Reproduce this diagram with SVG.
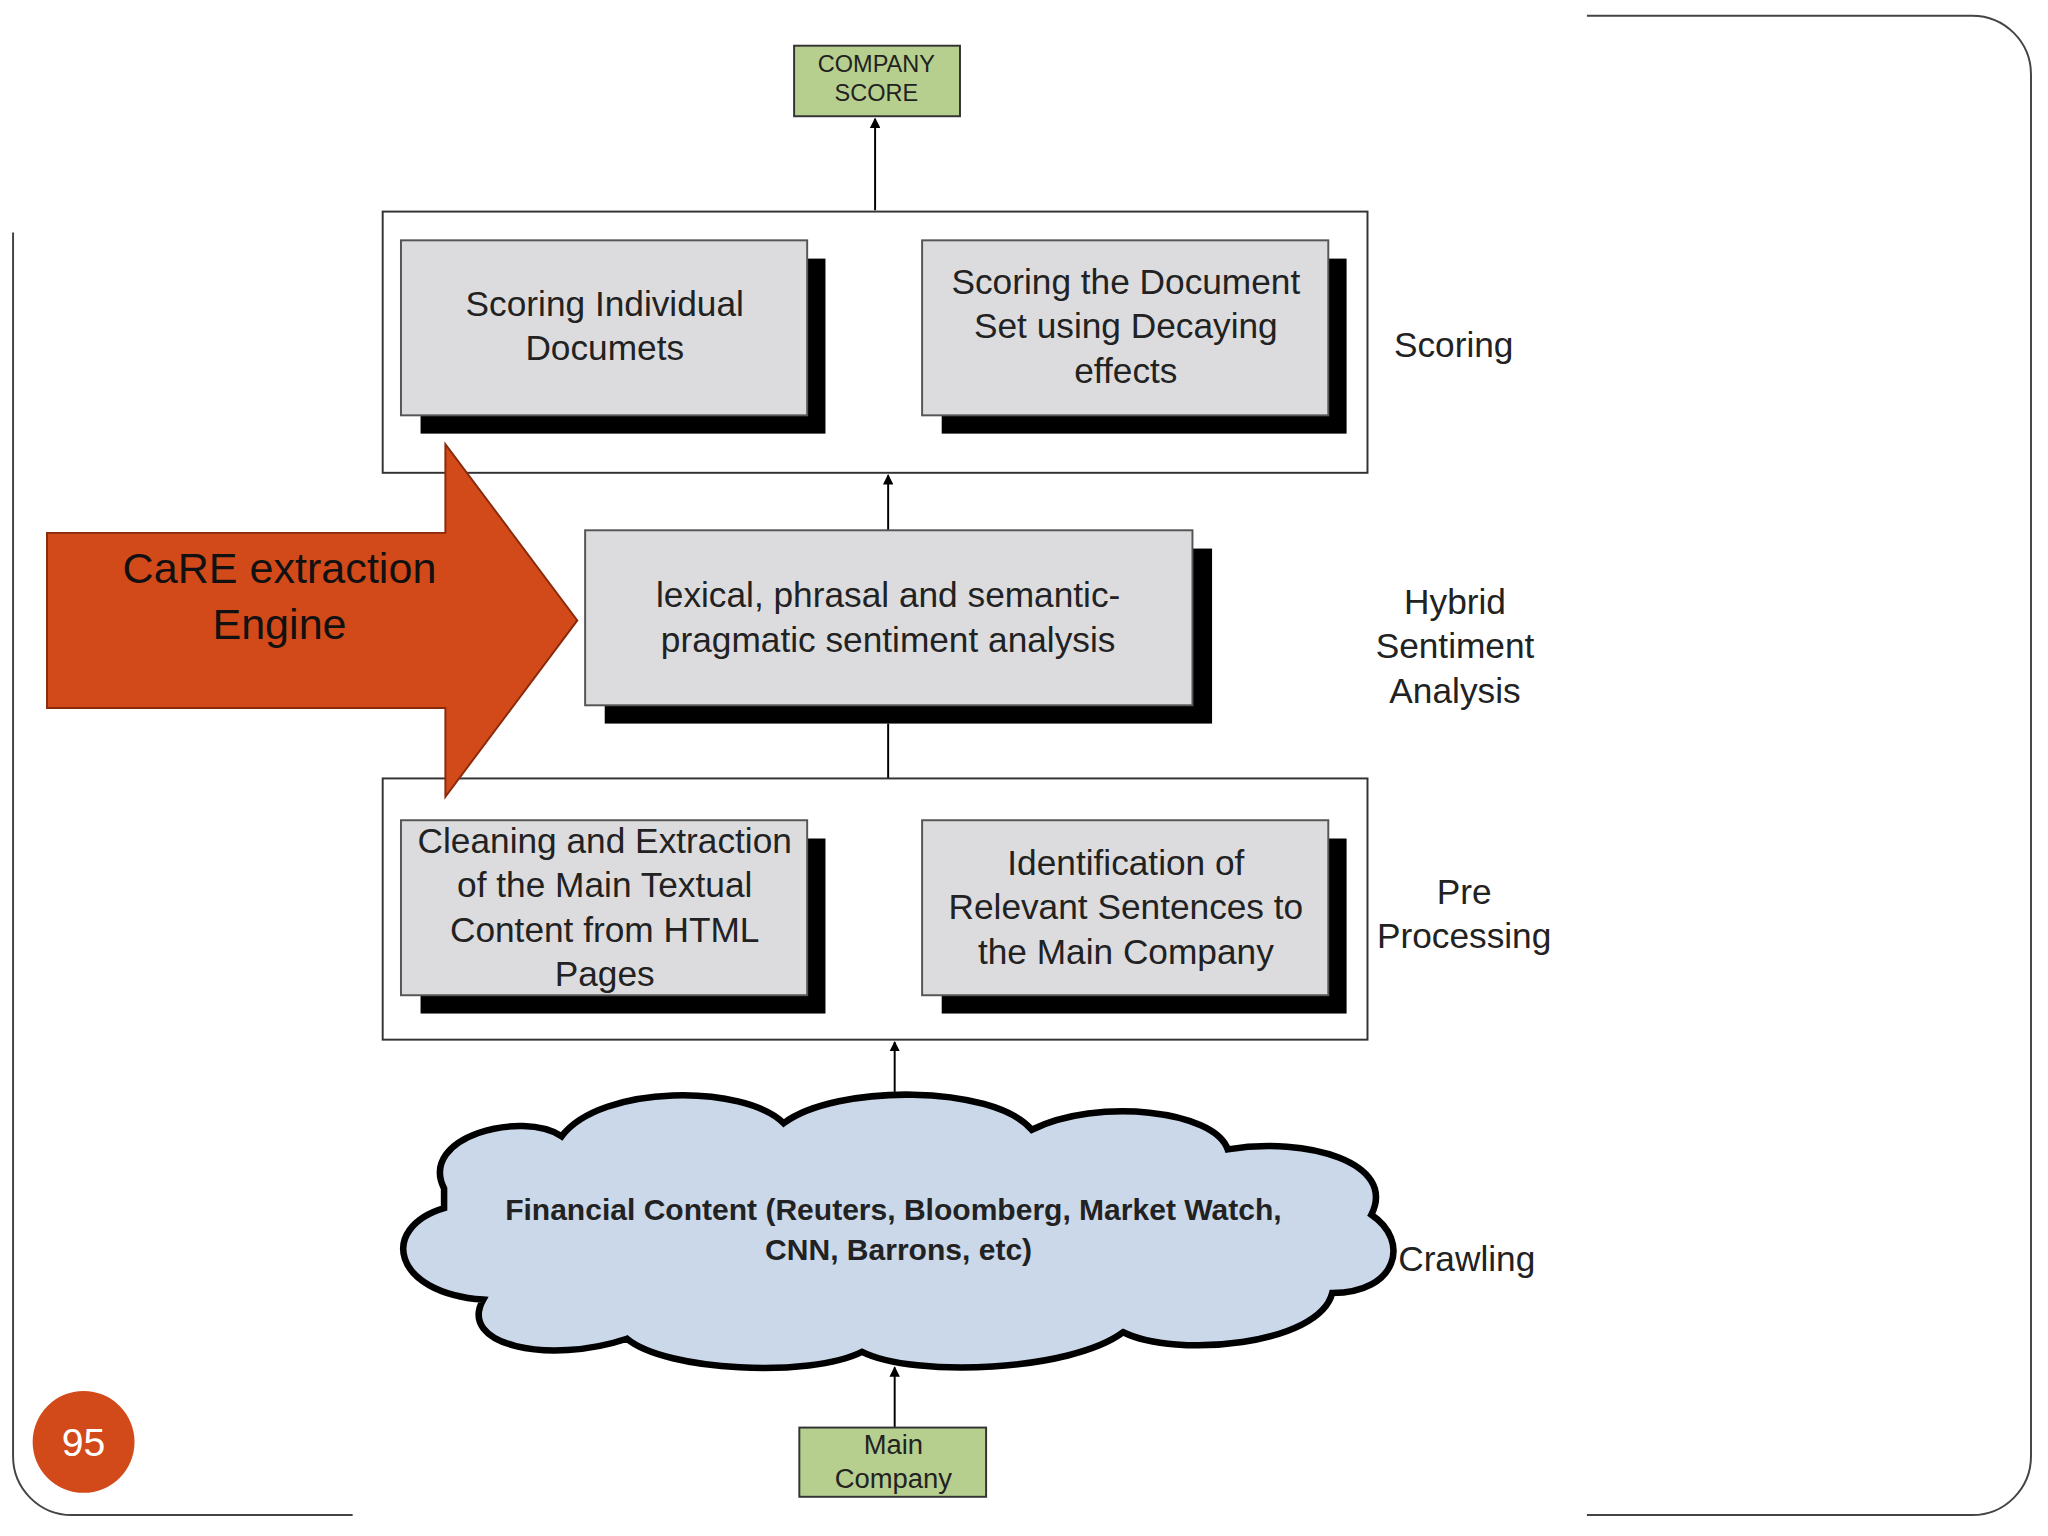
<svg xmlns="http://www.w3.org/2000/svg" width="2048" height="1536" viewBox="0 0 2048 1536">
<style>
text{font-family:"Liberation Sans",Arial,sans-serif;fill:#222;text-anchor:middle}
.bx{fill:#dcdcde;stroke:#555;stroke-width:1.5}
.sh{fill:#000}
.out{fill:#fff;stroke:#333;stroke-width:1.5}
.gr{fill:#b7cf8e;stroke:#333;stroke-width:1.5}
.ln{stroke:#000;stroke-width:1.5;fill:none}
.t{font-size:27px}
.lb{font-size:27px}
</style>
<defs><marker id="a" markerWidth="8" markerHeight="8" refX="7" refY="4" orient="auto" markerUnits="userSpaceOnUse"><path d="M0,0 L8,4 L0,8 Z" fill="#000"/></marker></defs>
<rect width="2048" height="1536" fill="#fff"/>
<g transform="scale(1.3061)">
<g id="frame" fill="none" stroke="#444" stroke-width="1.5">
<path d="M1215,12 H1510 A45,45 0 0 1 1555,57 V1115 A45,45 0 0 1 1510,1160 H1215"/>
<path d="M10,178 V1115 A45,45 0 0 0 55,1160 H270"/>
</g>
<g id="connectors">
<line class="ln" x1="670" y1="161" x2="670" y2="91" marker-end="url(#a)"/>
<line class="ln" x1="632" y1="250" x2="705" y2="250" marker-end="url(#a)"/>
<line class="ln" x1="680" y1="406" x2="680" y2="364" marker-end="url(#a)"/>
<line class="ln" x1="680" y1="554" x2="680" y2="596"/>
<line class="ln" x1="632" y1="696" x2="705" y2="696" marker-end="url(#a)"/>
<line class="ln" x1="685" y1="836" x2="685" y2="798" marker-end="url(#a)"/>
<line class="ln" x1="685" y1="1093" x2="685" y2="1047" marker-end="url(#a)"/>
</g>
<g id="score"><rect class="gr" x="608" y="35" width="127" height="54"/><text x="671" y="55" font-size="18">COMPANY</text><text x="671" y="77" font-size="18">SCORE</text></g>
<g id="scoring"><rect class="out" x="293" y="162" width="754" height="200"/><text class="lb" x="1113" y="273">Scoring</text></g>
<g id="s1"><rect class="sh" x="322" y="198" width="310" height="134"/><rect class="bx" x="307" y="184" width="311" height="134"/><text class="t" x="463" y="242">Scoring Individual</text><text class="t" x="463" y="276">Documets</text></g>
<g id="s2"><rect class="sh" x="721" y="198" width="310" height="134"/><rect class="bx" x="706" y="184" width="311" height="134"/><text class="t" x="862" y="225">Scoring the Document</text><text class="t" x="862" y="259">Set using Decaying</text><text class="t" x="862" y="293">effects</text></g>
<g id="hybrid"><rect class="sh" x="463" y="420" width="465" height="134"/><rect class="bx" x="448" y="406" width="465" height="134"/><text class="t" x="680" y="465">lexical, phrasal and semantic-</text><text class="t" x="680" y="499">pragmatic sentiment analysis</text>
<text class="lb" x="1114" y="470">Hybrid</text><text class="lb" x="1114" y="504">Sentiment</text><text class="lb" x="1114" y="538">Analysis</text></g>
<g id="pre"><rect class="out" x="293" y="596" width="754" height="200"/><text class="lb" x="1121" y="692">Pre</text><text class="lb" x="1121" y="726">Processing</text></g>
<g id="p1"><rect class="sh" x="322" y="642" width="310" height="134"/><rect class="bx" x="307" y="628" width="311" height="134"/><text class="t" x="463" y="653">Cleaning and Extraction</text><text class="t" x="463" y="687">of the Main Textual</text><text class="t" x="463" y="721">Content from HTML</text><text class="t" x="463" y="755">Pages</text></g>
<g id="p2"><rect class="sh" x="721" y="642" width="310" height="134"/><rect class="bx" x="706" y="628" width="311" height="134"/><text class="t" x="862" y="670">Identification of</text><text class="t" x="862" y="704">Relevant Sentences to</text><text class="t" x="862" y="738">the Main Company</text></g>
<g id="cloud"><path d="M340,910 C320,870 400,850 430,870 C460,830 570,830 600,860 C640,830 760,830 790,865 C840,840 930,850 940,880 C1000,870 1070,890 1050,930 C1080,950 1070,990 1020,990 C1010,1030 900,1040 860,1020 C820,1050 700,1055 660,1035 C620,1055 510,1050 480,1025 C420,1045 350,1030 370,995 C300,990 290,940 340,925 Z" fill="#cad8ea" stroke="#000" stroke-width="5"/>
<text x="684" y="934" font-size="23" font-weight="bold">Financial Content (Reuters, Bloomberg, Market Watch,</text><text x="688" y="965" font-size="23" font-weight="bold">CNN, Barrons, etc)</text>
<text class="lb" x="1123" y="973">Crawling</text></g>
<g id="main"><rect class="gr" x="612" y="1093" width="143" height="53"/><text x="684" y="1113" font-size="21">Main</text><text x="684" y="1139" font-size="21">Company</text></g>
<g id="engine"><path d="M36,408 H341 V340 L442,475 L341,610 V542 H36 Z" fill="#d34a1a" stroke="#8a2a0a" stroke-width="1.5"/><text x="214" y="446" font-size="33" fill="#000" style="fill:#111">CaRE extraction</text><text x="214" y="489" font-size="33" style="fill:#111">Engine</text></g>
<g id="page"><circle cx="64" cy="1104" r="39" fill="#d34a1a"/><text x="64" y="1115" font-size="30" style="fill:#fff">95</text></g>
</g>
</svg>
